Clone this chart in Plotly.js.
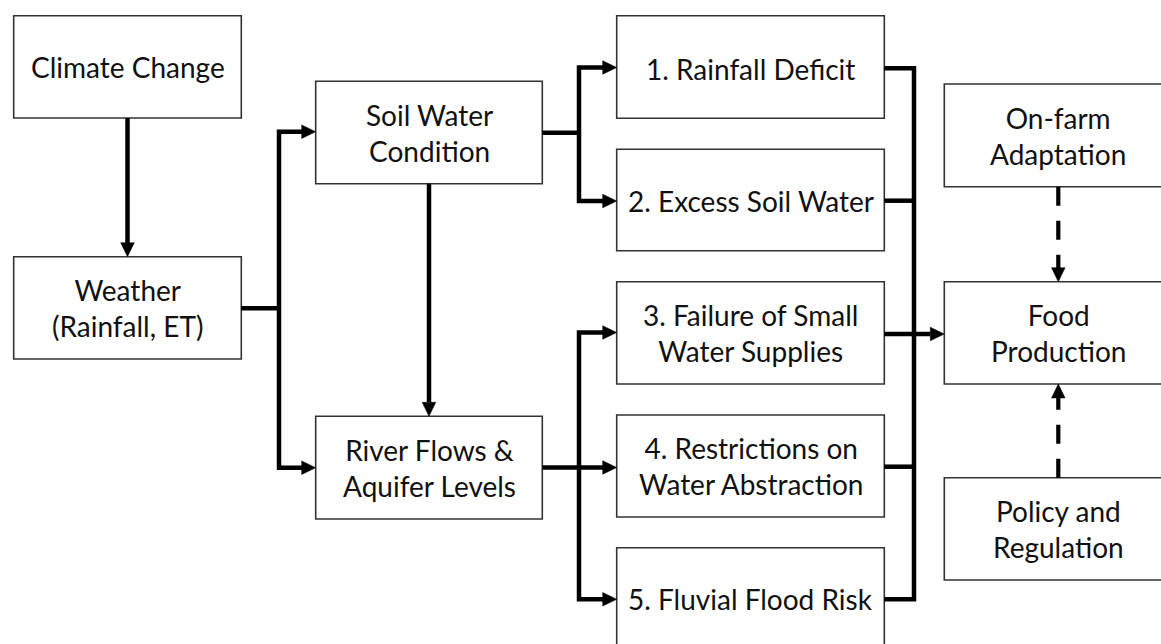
<!DOCTYPE html>
<html>
<head>
<meta charset="utf-8">
<script src="https://cdn.plot.ly/plotly-3.0.1.min.js"></script>
<style>
  html, body { margin: 0; padding: 0; background: #ffffff; }
  #chart { width: 1161px; height: 644px; }
</style>
</head>
<body>
<div id="chart"></div>
<script>
// ---- Diagram content (flowchart nodes) ----
const nodeLabels = [
  'Climate Change',
  'Weather<br>(Rainfall, ET)',
  'Soil Water<br>Condition',
  'River Flows &amp;<br>Aquifer Levels',
  '1. Rainfall Deficit',
  '2. Excess Soil Water',
  '3. Failure of Small<br>Water Supplies',
  '4. Restrictions on<br>Water Abstraction',
  '5. Fluvial Flood Risk',
  'On-farm<br>Adaptation',
  'Food<br>Production',
  'Policy and<br>Regulation'
];
// node box extents in diagram units
const nodeX0 = [13.7, 13.7, 315.7, 315.7, 616.7, 616.7, 616.7, 616.7, 616.7, 944.3, 944.3, 944.3];
const nodeX1 = [241.3, 241.3, 542.3, 542.3, 884.3, 884.3, 884.3, 884.3, 884.3, 1172, 1172, 1172];
const nodeY0 = [15.7, 256.7, 81.3, 416.3, 15.7, 149.3, 281.7, 415.0, 547.7, 84.0, 281.7, 477.7];
const nodeY1 = [118.0, 359.0, 183.7, 519.0, 118.3, 250.7, 384.0, 517.0, 650.0, 186.7, 384.0, 580.0];
const labelY = [67, 308, 132.5, 467.7, 68.5, 201, 333, 466, 599.3, 135.5, 333, 529];

// connector polylines (solid), as lists of [x, y] points
const solidLinks = [
  [[127.5, 118.0], [127.5, 243.0]],
  [[241.3, 308.3], [279.0, 308.3]],
  [[302.0, 131.7], [279.0, 131.7], [279.0, 467.7], [302.0, 467.7]],
  [[429.0, 183.7], [429.0, 402.3]],
  [[542.3, 132.7], [579.0, 132.7]],
  [[603.0, 67.5], [579.0, 67.5], [579.0, 201.0], [603.0, 201.0]],
  [[542.3, 467.5], [603.0, 467.5]],
  [[603.0, 332.5], [579.0, 332.5], [579.0, 599.3], [603.0, 599.3]],
  [[884.3, 68.3], [914.0, 68.3], [914.0, 599.3], [884.3, 599.3]],
  [[884.3, 200.7], [914.0, 200.7]],
  [[884.3, 334.0], [930.5, 334.0]],
  [[884.3, 466.7], [914.0, 466.7]]
];
// dashed influence links
const dashedLinks = [
  [[1058.3, 186.7], [1058.3, 268.0]],
  [[1058.3, 477.7], [1058.3, 398.0]]
];
// arrow heads: tip point and direction
const headX = [127.5, 315.7, 315.7, 429.0, 616.7, 616.7, 616.7, 616.7, 616.7, 944.3, 1058.3, 1058.3];
const headY = [256.7, 131.7, 467.7, 416.3, 67.5, 201.0, 467.5, 332.5, 599.3, 334.0, 281.7, 384.0];
const headDir = ['down', 'right', 'right', 'down', 'right', 'right', 'right', 'right', 'right', 'right', 'down', 'up'];

// ---- build shapes ----
const shapes = [];
const annotations = [];
const FONT = 'Lato, "Open Sans", sans-serif';

for (let i = 0; i < nodeLabels.length; i++) {
  shapes.push({
    type: 'rect', xref: 'x', yref: 'y',
    x0: nodeX0[i], x1: nodeX1[i], y0: nodeY0[i], y1: nodeY1[i],
    line: { color: '#333333', width: 1.6 },
    fillcolor: '#ffffff', layer: 'above'
  });
  annotations.push({
    x: (nodeX0[i] + Math.min(nodeX1[i], 1172)) / 2, y: labelY[i],
    xref: 'x', yref: 'y', text: nodeLabels[i], showarrow: false,
    xanchor: 'center', yanchor: 'middle',
    font: { family: FONT, size: 28, color: '#111111' }
  });
}

function toPath(pts) {
  return pts.map((p, k) => (k === 0 ? 'M' : 'L') + p[0] + ',' + p[1]).join(' ');
}
solidLinks.forEach(pts => shapes.push({
  type: 'path', xref: 'x', yref: 'y', path: toPath(pts),
  line: { color: '#000000', width: 4.5 }, fillcolor: 'rgba(0,0,0,0)', layer: 'above'
}));
dashedLinks.forEach(pts => shapes.push({
  type: 'line', xref: 'x', yref: 'y',
  x0: pts[0][0], y0: pts[0][1], x1: pts[1][0], y1: pts[1][1],
  line: { color: '#000000', width: 4.2, dash: '19px,15px' }, layer: 'above'
}));

const HL = 14, HW = 6.8;
for (let i = 0; i < headX.length; i++) {
  const x = headX[i], y = headY[i];
  let p;
  if (headDir[i] === 'right') p = [[x, y], [x - HL, y - HW], [x - HL, y + HW]];
  else if (headDir[i] === 'down') p = [[x, y], [x - HW, y - HL], [x + HW, y - HL]];
  else p = [[x, y], [x - HW, y + HL], [x + HW, y + HL]];
  shapes.push({
    type: 'path', xref: 'x', yref: 'y', path: toPath(p) + ' Z',
    line: { color: '#000000', width: 0.5 }, fillcolor: '#000000', layer: 'above'
  });
}

const layout = {
  width: 1161, height: 644,
  margin: { l: 0, r: 0, t: 0, b: 0, pad: 0 },
  paper_bgcolor: '#ffffff', plot_bgcolor: '#ffffff',
  showlegend: false,
  xaxis: { range: [0, 1161], visible: false, fixedrange: true },
  yaxis: { range: [644, 0], visible: false, fixedrange: true },
  shapes: shapes,
  annotations: annotations
};

Plotly.newPlot('chart', [{
  type: 'scatter', mode: 'markers', x: [], y: [], hoverinfo: 'skip'
}], layout, { staticPlot: true, displayModeBar: false });
</script>
</body>
</html>
